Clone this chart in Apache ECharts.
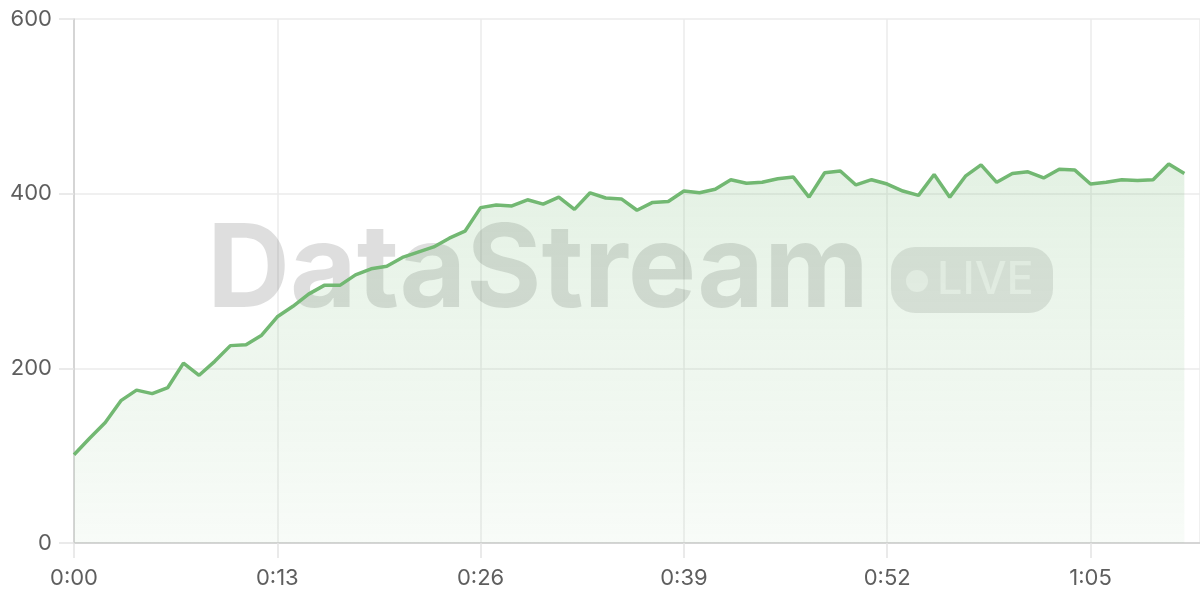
<!DOCTYPE html>
<html>
<head>
<meta charset="utf-8">
<script src="https://cdn.jsdelivr.net/npm/echarts@6/dist/echarts.min.js"></script>
<style>
html,body{margin:0;padding:0;background:#fff;}
#chart{width:1200px;height:600px;}
</style>
</head>
<body>
<div id="chart"></div>
<script>
// samples, one per second starting at 0:00
const values = [101,120,138,163,175,171,178,206,192,208,226,227,238,259,271,285,295,295,307,314,
  317,327,333,339,349,357,384,387,386,393,388,396,382,401,395,394,381,390,391,403,
  401,405,416,412,413,417,419,396,424,426,410,416,411,403,398,422,396,420,433,413,
  423,425,418,428,427,411,413,416,415,416,434,423];
const xTickSeconds = [0,13,26,39,52,65];
const yTicks = [0,200,400,600];
const watermarkText = 'DataStream';
const badgeText = 'LIVE';

const fmt = s => Math.floor(s/60) + ':' + String(Math.round(s%60)).padStart(2,'0');
const points = values.map((v,i)=>[i, v]);

const chart = echarts.init(document.getElementById('chart'));
const green = '#72b872';
chart.setOption({
  animation:false,
  grid:{left:74,right:0,top:19,bottom:57},
  xAxis:{
    type:'value', min:0, max:72, interval:xTickSeconds[1]-xTickSeconds[0],
    axisLine:{lineStyle:{color:'#cccccc',width:1.5}},
    axisTick:{show:true,length:15,lineStyle:{color:'#e3e3e3',width:1.5}},
    axisLabel:{formatter:v=>fmt(v),color:'#5e5e5e',fontSize:22,fontFamily:'Inter',margin:24,showMaxLabel:false},
    splitLine:{show:true,lineStyle:{color:'#ebebeb',width:1.5}}
  },
  yAxis:{
    type:'value', min:yTicks[0], max:yTicks[yTicks.length-1], interval:yTicks[1]-yTicks[0],
    axisLine:{show:true,lineStyle:{color:'#cccccc',width:1.5}},
    axisTick:{show:true,length:15,lineStyle:{color:'#e3e3e3',width:1.5}},
    axisLabel:{color:'#5e5e5e',fontSize:22,fontFamily:'Inter',margin:22},
    splitLine:{show:true,lineStyle:{color:'#ebebeb',width:1.5}}
  },
  graphic:[
    {type:'text',z:1,style:{text:watermarkText,x:207,y:272,font:'bold 115px Inter',fill:'rgba(0,0,0,0.13)',align:'left',verticalAlign:'middle'}},
    {type:'rect',z:1,shape:{x:891,y:247,width:162,height:66,r:24},style:{fill:'rgba(0,0,0,0.1)'}},
    {type:'circle',z:1,shape:{cx:917,cy:281,r:11},style:{fill:'rgba(255,255,255,0.55)'}},
    {type:'text',z:1,style:{text:badgeText,x:937,y:280,font:'500 45px Inter',fill:'rgba(255,255,255,0.55)',align:'left',verticalAlign:'middle'}}
  ],
  series:[{
    type:'line',
    data:points,
    showSymbol:false,
    z:3,
    lineStyle:{color:green,width:3.5},
    itemStyle:{color:green},
    areaStyle:{color:new echarts.graphic.LinearGradient(0,0,0,1,[
      {offset:0,color:'rgba(114,184,114,0.28)'},
      {offset:1,color:'rgba(114,184,114,0.07)'}
    ])}
  }]
});
</script>
</body>
</html>
